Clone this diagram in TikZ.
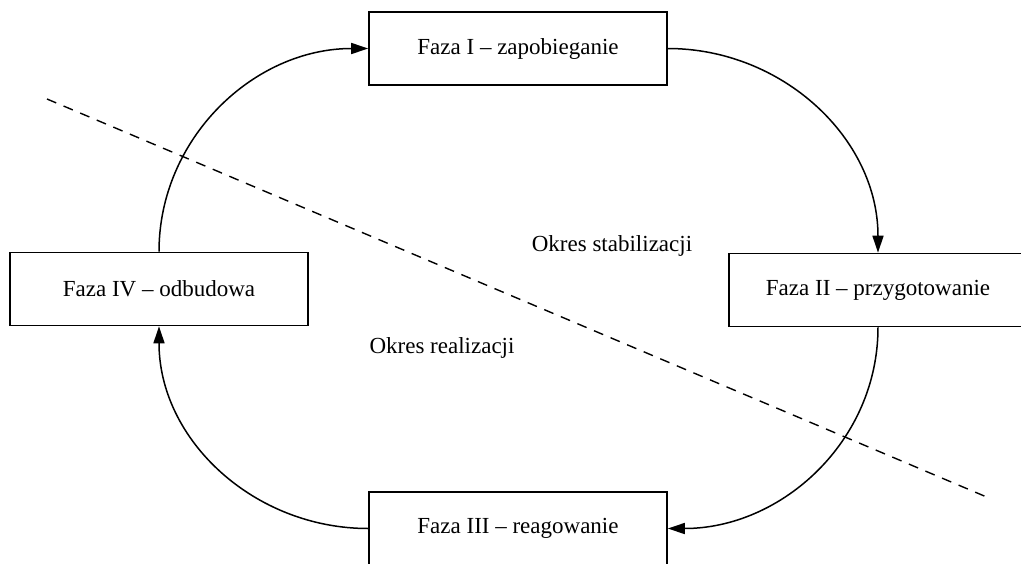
\documentclass[tikz,border=0pt]{standalone}
\usepackage{fontspec}
\setmainfont{Liberation Serif}
\usetikzlibrary{arrows.meta}
\begin{document}
\begin{tikzpicture}[x=1pt,y=-1pt,
  phase/.style={draw, line width=1.6pt, minimum width=298pt, minimum height=73pt,
    inner sep=0pt, font=\fontsize{23}{27}\selectfont, fill=white},
  flow/.style={line width=1.5pt, -{Triangle[length=17pt,width=11pt]}},
  period/.style={font=\fontsize{23}{27}\selectfont},
  divider/.style={line width=1.4pt, dash pattern=on 10pt off 8pt}]
  \useasboundingbox (0,0) rectangle (1021,563);
  \clip (0,0) rectangle (1021,563);

  % dividing line between the two periods
  \coordinate (d1) at (47,99);
  \coordinate (d2) at (989,498);
  \draw[divider] (d1) -- (d2);

  % the four phases
  \node[phase] (f1) at (518,48.5) {Faza I – zapobieganie};
  \node[phase] (f2) at (878,290) {Faza II – przygotowanie};
  \node[phase] (f3) at (518,528.5) {Faza III – reagowanie};
  \node[phase] (f4) at (159,289) {Faza IV – odbudowa};

  % period labels
  \node[period] (ps) at (612,246) {Okres stabilizacji};
  \node[period] (pr) at (442,348) {Okres realizacji};

  % cycle of phases
  \draw[flow] (f4.north) to[out=90,in=180] (f1.west);
  \draw[flow] (f1.east) to[out=0,in=90] (f2.north);
  \draw[flow] (f2.south) to[out=270,in=0] (f3.east);
  \draw[flow] (f3.west) to[out=180,in=270] (f4.south);
\end{tikzpicture}
\end{document}
